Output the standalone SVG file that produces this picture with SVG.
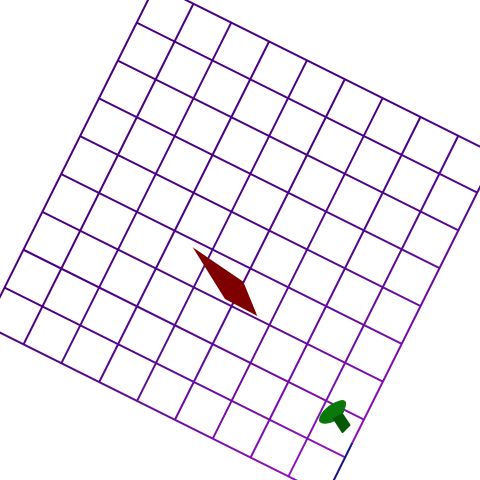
<svg xmlns="http://www.w3.org/2000/svg" width="480" height="480" viewBox="0 0 480 480">
  <defs>
    <linearGradient id="gridGrad" gradientUnits="userSpaceOnUse" x1="200" y1="200" x2="320" y2="460">
      <stop offset="0" stop-color="#4B0082"/>
      <stop offset="0.4" stop-color="#55088E"/>
      <stop offset="1" stop-color="#9012C0"/>
    </linearGradient>
  </defs>
  <style>
    .grid { fill: none; stroke: url(#gridGrad); stroke-width: 2; stroke-linecap: butt; }
    .navy { fill: none; stroke: #14147E; stroke-width: 2; }
  </style>
  <rect width="480" height="480" fill="#FFFFFF"/>
  <g id="grid">
    <path class="grid" d="
      M155.57,-15.14 L496.13,154.69
      M136.70,22.70 L477.26,192.53
      M117.83,60.54 L458.39,230.37
      M98.96,98.38 L439.52,268.21
      M80.09,136.22 L420.65,306.05
      M61.22,174.06 L401.78,343.89
      M42.35,211.90 L382.91,381.73
      M23.48,249.74 L364.04,419.57
      M4.61,287.58 L345.17,457.41
      M-14.26,325.42 L326.30,495.25
      M155.57,-15.14 L-14.26,325.42
      M193.41,3.73 L23.58,344.29
      M231.25,22.60 L61.42,363.16
      M269.09,41.47 L99.26,382.03
      M306.93,60.34 L137.10,400.90
      M344.77,79.21 L174.94,419.77
      M382.61,98.08 L212.78,438.64
      M420.45,116.95 L250.62,457.51
      M458.29,135.82 L288.46,476.38
      M496.13,154.69 L352.50,442.50"/>
    <path class="navy" d="M352.50,442.50 L326.30,495.25"/>
  </g>
  <g id="sail">
    <polygon points="192.7,247.3 243.3,281.7 257.3,316 225,299" fill="#7F0000"/>
  </g>
  <g id="cone">
    <path d="M319.5,421 C319,414 328,405 337,402 C342,400 345.5,400 345.5,403 C345.5,407 344,410 343,413 L336,420 C330,423.5 321,424.5 319.5,421 Z" fill="#0A780A" stroke="#0A780A" stroke-width="1" stroke-linejoin="round"/>
    <polygon points="334,419 342.5,414.5 349.5,425 342.5,432" fill="#055805" stroke="#055805" stroke-width="2" stroke-linejoin="round"/>
  </g>
</svg>
